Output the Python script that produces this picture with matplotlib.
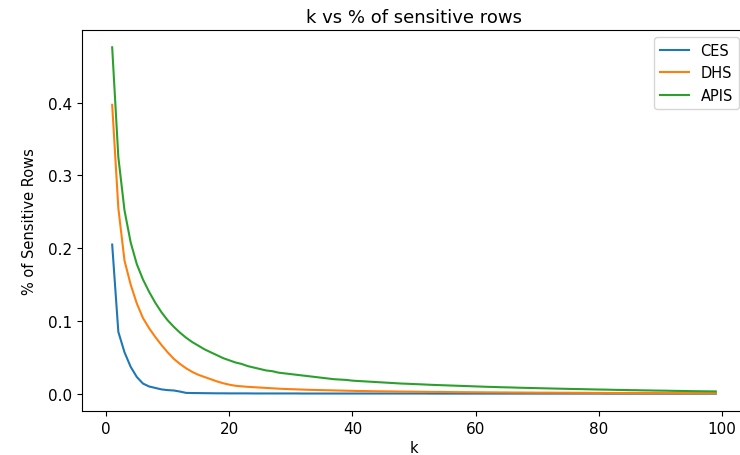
import matplotlib
matplotlib.use("Agg")
import matplotlib.pyplot as plt

# k values 1..99
k = list(range(1, 100))

ces = [0.205, 0.085, 0.057, 0.037, 0.023, 0.014, 0.010, 0.008, 0.006, 0.005,
       0.0045, 0.003, 0.0012, 0.001, 0.0009, 0.0008, 0.0007, 0.0006, 0.0006, 0.0005,
       0.0005, 0.0005, 0.0005, 0.0004, 0.0004, 0.0004, 0.0004, 0.0004, 0.0004, 0.0004,
       0.0004, 0.0003, 0.0003, 0.0003, 0.0003, 0.0003, 0.0003, 0.0003, 0.0003, 0.0003,
       0.0003, 0.0003, 0.0003, 0.0003, 0.0003, 0.0003, 0.0003, 0.0003, 0.0003, 0.0003,
       0.0003, 0.0003, 0.0002, 0.0002, 0.0002, 0.0002, 0.0002, 0.0002, 0.0002, 0.0002,
       0.0002, 0.0002, 0.0002, 0.0002, 0.0002, 0.0002, 0.0002, 0.0002, 0.0002, 0.0002,
       0.0002, 0.0002, 0.0002, 0.0002, 0.0002, 0.0002, 0.0002, 0.0002, 0.0002, 0.0002,
       0.0001, 0.0001, 0.0001, 0.0001, 0.0001, 0.0001, 0.0001, 0.0001, 0.0001, 0.0001,
       0.0001, 0.0001, 0.0001, 0.0001, 0.0001, 0.0001, 0.0001, 0.0001, 0.0001]

dhs = [0.397, 0.255, 0.183, 0.150, 0.124, 0.104, 0.090, 0.078, 0.067, 0.057,
       0.048, 0.041, 0.035, 0.030, 0.026, 0.023, 0.020, 0.017, 0.0145, 0.0125,
       0.011, 0.0102, 0.0095, 0.009, 0.0085, 0.008, 0.0075, 0.007, 0.0066, 0.0063,
       0.006, 0.0057, 0.0054, 0.0052, 0.005, 0.0048, 0.0046, 0.0044, 0.0042, 0.004,
       0.0038, 0.0037, 0.0035, 0.0034, 0.0033, 0.0032, 0.0031, 0.003, 0.0029, 0.0028,
       0.0027, 0.0026, 0.0025, 0.0025, 0.0024, 0.0023, 0.0022, 0.0022, 0.0021, 0.002,
       0.002, 0.0019, 0.0019, 0.0018, 0.0018, 0.0017, 0.0017, 0.0016, 0.0016, 0.0015,
       0.0015, 0.0015, 0.0014, 0.0014, 0.0014, 0.0013, 0.0013, 0.0013, 0.0012, 0.0012,
       0.0012, 0.0011, 0.0011, 0.0011, 0.0011, 0.001, 0.001, 0.001, 0.001, 0.0009,
       0.0009, 0.0009, 0.0009, 0.0008, 0.0008, 0.0008, 0.0008, 0.0008, 0.0007]

apis = [0.476, 0.325, 0.252, 0.208, 0.178, 0.157, 0.140, 0.125, 0.112, 0.101,
        0.092, 0.084, 0.077, 0.071, 0.066, 0.061, 0.057, 0.053, 0.049, 0.046,
        0.043, 0.041, 0.038, 0.036, 0.034, 0.032, 0.031, 0.029, 0.028, 0.027,
        0.026, 0.025, 0.024, 0.023, 0.022, 0.021, 0.020, 0.0195, 0.019, 0.018,
        0.0175, 0.017, 0.0165, 0.016, 0.0155, 0.015, 0.0145, 0.014, 0.0137, 0.0133,
        0.013, 0.0126, 0.0122, 0.0119, 0.0116, 0.0113, 0.011, 0.0107, 0.0104, 0.0101,
        0.0098, 0.0095, 0.0093, 0.009, 0.0088, 0.0086, 0.0083, 0.0081, 0.0079, 0.0077,
        0.0075, 0.0073, 0.0071, 0.0069, 0.0067, 0.0065, 0.0064, 0.0062, 0.006, 0.0058,
        0.0057, 0.0055, 0.0053, 0.0052, 0.005, 0.0049, 0.0047, 0.0046, 0.0044, 0.0043,
        0.0042, 0.004, 0.0039, 0.0038, 0.0036, 0.0035, 0.0034, 0.0033, 0.0032]

plt.rcParams['font.size'] = 10.5

fig = plt.figure(figsize=(7.4, 4.56), dpi=100)
# reference is cropped on the right, so the axes run slightly past the figure edge
ax = fig.add_axes([82 / 740, 44 / 456, 664 / 740, 381 / 456])

ax.plot(k, ces, label="CES")
ax.plot(k, dhs, label="DHS")
ax.plot(k, apis, label="APIS")

ax.set_title("k vs % of sensitive rows", fontsize=13)
ax.set_xlabel("k", labelpad=3)
ax.set_ylabel("% of Sensitive Rows", labelpad=8)
ax.tick_params(labelsize=11)
ax.legend(loc="upper right")

fig.savefig("out.png", dpi=100)
